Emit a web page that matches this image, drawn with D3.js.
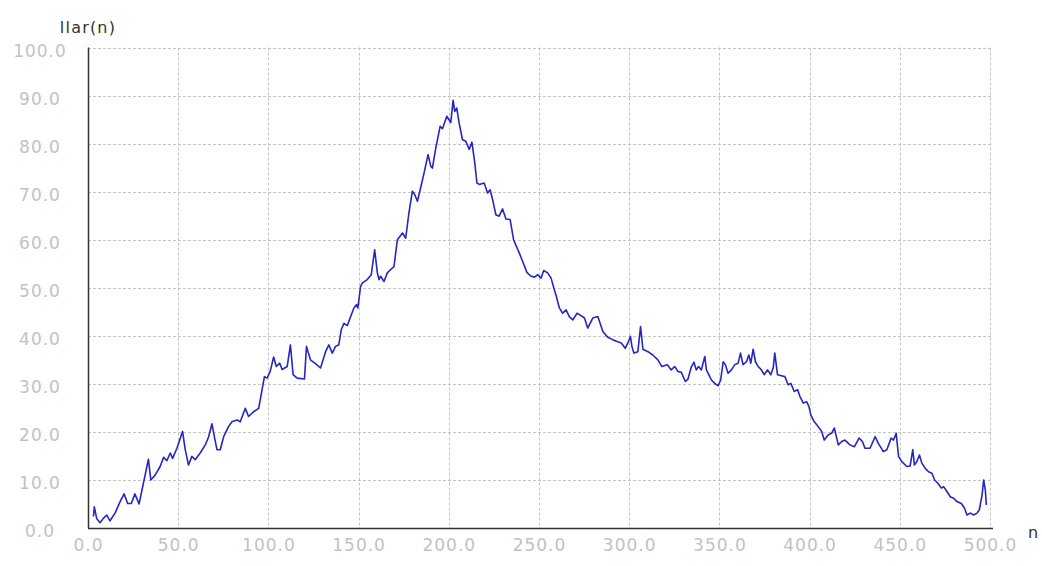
<!DOCTYPE html>
<html>
<head>
<meta charset="utf-8">
<script src="https://cdn.jsdelivr.net/npm/d3@7"></script>
<style>
  html, body { margin: 0; padding: 0; background: #fff; }
  svg { display: block; }
</style>
</head>
<body>
<svg id="chart" width="1042" height="566"></svg>
<script>
// Axis ticks
const xTicks = [0, 50, 100, 150, 200, 250, 300, 350, 400, 450, 500];
const yTicks = [0, 10, 20, 30, 40, 50, 60, 70, 80, 90, 100];
const xTitle = "n";
const yTitle = "llar(n)";

// Series: [n, llar(n)]
const series = [
  [3,2.4],[3.5,4.4],[4.8,2.0],[6.7,1.1],[8.5,2.0],[10.4,2.7],[12.2,1.5],[15,3.1],[17.8,5.5],[20,7.1],
  [22,5.1],[24,5.1],[26,7.1],[28.3,5.0],[30.7,9.3],[33.5,14.3],[34.8,10],[37.2,11],[40,12.8],[41.9,14.7],
  [43.7,14.0],[45.6,15.6],[46.9,14.5],[49.3,16.6],[52.4,20.1],[53.9,16.3],[55.7,13.1],[57.6,14.9],[59.4,14.2],[62.2,15.6],
  [65,17.3],[66.9,19.0],[68.7,21.7],[70.2,18.7],[71.5,16.3],[73.3,16.3],[75.2,19.0],[77.9,21.1],[79.8,22.1],[82.6,22.5],
  [84.4,22.1],[87.2,24.9],[89,23.2],[91.8,24.2],[94.6,24.9],[96.5,28.8],[97.8,31.5],[99.3,31.2],[101,32.6],[102.9,35.6],
  [104.4,33.6],[106.3,34.3],[107.6,33.0],[110.4,33.6],[112.2,38.1],[113.7,31.9],[115.9,31.2],[120,31.0],[121.1,37.8],[123.3,35.0],
  [126.1,34.2],[128.9,33.3],[131.7,36.7],[133.5,38.1],[135.4,36.4],[137.2,37.8],[139,38.1],[140.4,41.3],[141.9,42.6],[143.7,42.1],
  [145.6,44.0],[147.4,45.8],[148.9,46.5],[149.6,45.8],[151.1,50.3],[152.1,51.0],[154.8,51.7],[157,52.7],[158.9,57.9],[160.4,53.1],
  [161.3,51.7],[162.2,52.4],[164.1,51.3],[165.9,53.1],[167.8,53.8],[169.6,54.4],[171.5,60],[174.3,61.4],[176.1,60.3],[177.9,65.6],
  [179.8,70.1],[181.1,69.4],[182.6,68.0],[184.4,70.8],[186.3,73.9],[188.5,77.7],[190,75.3],[190.9,74.9],[192.8,79.1],[195.2,83.6],
  [196.5,83.1],[198.9,85.7],[201.1,84.4],[202.4,89.0],[203.3,86.7],[204.4,87.4],[205.7,84.3],[207.6,80.8],[209.4,80.5],[211.3,78.8],
  [212.8,80.3],[214.4,76.0],[215.6,71.8],[216.9,71.5],[219.6,71.8],[221.5,69.7],[222.9,70.4],[224.3,68.3],[226.1,65.2],[227.9,64.9],
  [229.8,66.4],[231.7,64.3],[234,64.2],[235.9,60.0],[239.1,57.2],[240.9,55.5],[243.3,53.2],[245.2,52.5],[247.4,52.2],[249.3,52.7],
  [251.1,52.0],[252.6,53.6],[254.8,53.1],[256.7,52.0],[258.5,49.6],[259.4,48.5],[261.3,45.8],[263.1,44.7],[265,45.4],[266.8,44.0],
  [268.7,43.3],[271.1,44.7],[273.3,44.2],[275.2,43.7],[277,41.6],[279.8,43.7],[282.6,44.0],[285.4,40.9],[288.1,39.7],[290.9,39.2],
  [293.3,38.8],[295.6,38.5],[297.8,37.4],[299.6,38.8],[300.7,39.9],[301.5,37.8],[302.6,36.4],[304.8,36.7],[306.3,41.9],[307.6,37.2],
  [310.4,36.7],[313.1,36.0],[315.9,35.0],[318.1,33.6],[321.1,34.0],[323.3,32.9],[325.2,33.6],[327,32.6],[328.9,32.4],[331.1,30.5],
  [332.6,31.0],[334.4,33.5],[335.9,34.5],[337.2,32.9],[338.5,33.6],[340,32.9],[341.9,35.7],[342.8,32.9],[344.1,31.9],[345.6,30.8],
  [347.4,30.1],[349.3,29.6],[350.7,30.8],[352.1,34.6],[353.3,34.0],[354.8,32.2],[356.7,32.9],[358.5,34.0],[360.4,34.3],[361.7,36.4],
  [363.1,34.0],[365,34.6],[366.3,36.0],[367.4,34.3],[368.7,37.2],[370,34.6],[371.5,33.6],[373.3,32.9],[374.8,31.9],[376.7,32.9],
  [378.5,31.9],[379.8,33.3],[380.7,36.4],[382.2,31.9],[384.4,31.7],[386.3,31.5],[388.1,29.8],[389.6,30.1],[391.5,28.4],[393.3,28.8],
  [394.6,27.4],[396.5,26.0],[398.3,26.3],[399.6,25.3],[400.7,23.5],[402.6,22.1],[404.4,21.3],[406.7,20.1],[408.1,18.3],[410.4,19.4],
  [412.2,19.7],[413.7,20.8],[415.9,17.3],[417.8,18.0],[419.6,18.3],[422.4,17.3],[424.8,16.9],[427.4,18.7],[429.3,18.0],[430.7,16.6],
  [433.5,16.6],[436.3,19.0],[438.1,17.6],[440.9,15.9],[442.8,16.3],[445.2,18.7],[446.5,18.3],[448,19.7],[449.3,14.9],[451.1,13.8],
  [453.9,12.8],[455.7,12.9],[457.2,16.3],[458.1,13.1],[459.4,13.8],[460.9,15.2],[462.2,13.5],[464.1,12.4],[465.9,11.7],[467.8,11.4],
  [469.3,10.0],[471.1,9.3],[473,8.3],[474.3,8.6],[476.1,7.6],[478,6.5],[479.8,6.2],[481.7,5.5],[484.1,5.1],[485.9,4.1],
  [487.2,2.7],[489.1,3.1],[490.9,2.7],[492.8,3.1],[494.1,3.8],[495.6,6.9],[496.5,10.0],[497.4,7.9],[498,4.8]
];

const svg = d3.select("#chart");
const x = d3.scaleLinear().domain([0, 500]).range([88, 990]);
const y = d3.scaleLinear().domain([0, 100]).range([528, 47.5]);

const fmt = d3.format(".1f");

// Grid lines
const grid = svg.append("g");
grid.selectAll("line.h").data(yTicks.filter(d => d > 0)).join("line")
  .attr("x1", x(0)).attr("x2", x(500) + 2)
  .attr("y1", d => Math.round(y(d)) + 0.5).attr("y2", d => Math.round(y(d)) + 0.5)
  .attr("stroke", "#c4c4c4").attr("stroke-width", 1)
  .attr("stroke-dasharray", "3,2");
grid.selectAll("line.v").data(xTicks.filter(d => d > 0)).join("line")
  .attr("x1", d => Math.round(x(d)) + 0.5).attr("x2", d => Math.round(x(d)) + 0.5)
  .attr("y1", y(100)).attr("y2", y(0))
  .attr("stroke", "#c4c4c4").attr("stroke-width", 1)
  .attr("stroke-dasharray", "3,2");

// Axes via d3 axis generators (labels styled afterwards)
const xAxis = svg.append("g").attr("transform", `translate(0,${y(0)})`)
  .call(d3.axisBottom(x).tickValues(xTicks).tickFormat(fmt).tickSize(0).tickPadding(18));
xAxis.select(".domain").attr("d", `M${x(0)},0.5H${x(500) + 3}`)
  .attr("stroke", "#333").attr("stroke-width", 1.5);

const yAxis = svg.append("g").attr("transform", `translate(${x(0)},0)`)
  .call(d3.axisLeft(y).tickValues(yTicks).tickFormat(fmt).tickSize(0).tickPadding(0));
yAxis.select(".domain").attr("d", `M0.5,${y(100)}V${y(0)}`)
  .attr("stroke", "#333").attr("stroke-width", 1.5);

svg.selectAll(".tick text")
  .attr("font-family", "DejaVu Sans, sans-serif")
  .attr("font-size", 17)
  .attr("letter-spacing", "1px")
  .attr("fill", "#c2c2c2");
yAxis.selectAll(".tick text")
  .attr("text-anchor", "middle")
  .attr("x", -48)
  .attr("dy", "0.5em");
xAxis.selectAll(".tick text")
  .attr("dy", "0.3em");

// Axis titles
svg.append("text").text(yTitle)
  .attr("x", x(0)).attr("y", 33)
  .attr("text-anchor", "middle")
  .attr("font-family", "DejaVu Sans, sans-serif")
  .attr("font-size", 16).attr("letter-spacing", "1.2px")
  .attr("fill", "#333");
svg.append("text").text(xTitle)
  .attr("x", 1028).attr("y", 538)
  .attr("font-family", "DejaVu Sans, sans-serif")
  .attr("font-size", 16)
  .attr("fill", "#333");

// Data line
const line = d3.line().x(d => x(d[0])).y(d => y(d[1]));
svg.append("path").datum(series)
  .attr("d", line)
  .attr("fill", "none")
  .attr("stroke", "#2626c0")
  .attr("stroke-width", 1.6)
  .attr("stroke-linejoin", "round");
</script>
</body>
</html>
